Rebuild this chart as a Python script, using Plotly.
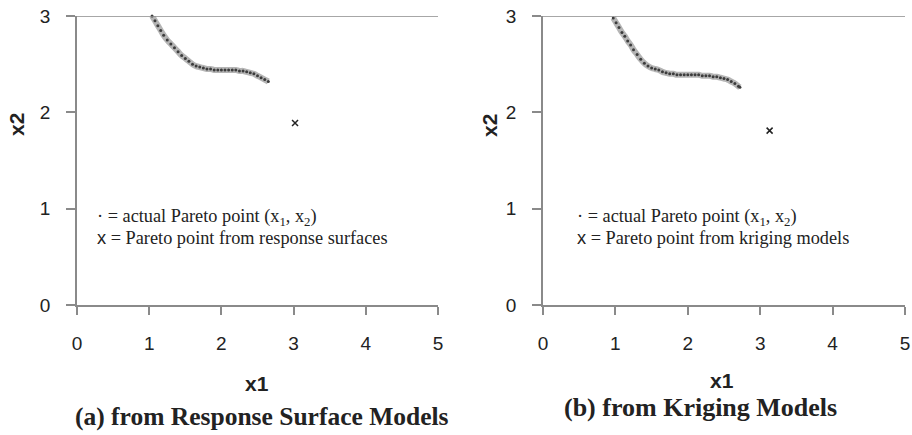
import plotly.graph_objects as go

# Panel (a): actual Pareto points (x1, x2) and response-surface Pareto point
a_x1 = [1.04, 1.08, 1.12, 1.16, 1.20, 1.25, 1.30, 1.35, 1.40, 1.45, 1.50, 1.55, 1.60,
        1.65, 1.70, 1.75, 1.80, 1.85, 1.90, 1.95, 2.00, 2.05, 2.10, 2.15, 2.20, 2.25,
        2.30, 2.35, 2.40, 2.45, 2.50, 2.55, 2.60, 2.65]
a_x2 = [3.00, 2.95, 2.90, 2.85, 2.80, 2.75, 2.71, 2.67, 2.63, 2.59, 2.56, 2.53, 2.50,
        2.48, 2.47, 2.46, 2.45, 2.45, 2.44, 2.44, 2.44, 2.44, 2.44, 2.44, 2.44, 2.43,
        2.43, 2.42, 2.41, 2.40, 2.38, 2.36, 2.34, 2.32]
a_est_x1 = [3.02]
a_est_x2 = [1.89]

# Panel (b): actual Pareto points and kriging Pareto point
b_x1 = [0.97, 1.01, 1.05, 1.09, 1.13, 1.17, 1.21, 1.25, 1.30, 1.35, 1.40, 1.45, 1.50,
        1.55, 1.60, 1.65, 1.70, 1.75, 1.80, 1.85, 1.90, 1.95, 2.00, 2.05, 2.10, 2.15,
        2.20, 2.25, 2.30, 2.35, 2.40, 2.45, 2.50, 2.55, 2.60, 2.65, 2.70, 2.72]
b_x2 = [2.98, 2.93, 2.88, 2.83, 2.79, 2.74, 2.70, 2.65, 2.60, 2.55, 2.51, 2.48, 2.46,
        2.45, 2.44, 2.42, 2.41, 2.40, 2.40, 2.39, 2.39, 2.39, 2.39, 2.39, 2.39, 2.39,
        2.38, 2.38, 2.38, 2.37, 2.37, 2.36, 2.35, 2.34, 2.32, 2.30, 2.27, 2.26]
b_est_x1 = [3.13]
b_est_x2 = [1.81]

x_ticks = [0, 1, 2, 3, 4, 5]
y_ticks = [0, 1, 2, 3]

captions = ["(a) from Response Surface Models", "(b) from Kriging Models"]
SANS_X = "<span style='font-family:Liberation Sans, Arial, sans-serif'>x</span>"
legend_a = ["\u00b7 = actual Pareto point (x<sub>1</sub>, x<sub>2</sub>)",
            SANS_X + " = Pareto point from response surfaces"]
legend_b = ["\u00b7 = actual Pareto point (x<sub>1</sub>, x<sub>2</sub>)",
            SANS_X + " = Pareto point from kriging models"]

W, H = 912, 435
sans = "Liberation Sans, Arial, sans-serif"
serif = "Liberation Serif, Times New Roman, serif"
axcol = "#8a8a8a"
txtcol = "#222222"

fig = go.Figure()

def add_panel(xs, ys, ex, ey, xa, ya):
    fig.add_trace(go.Scatter(x=xs, y=ys, mode="lines+markers", xaxis=xa, yaxis=ya,
                             line=dict(color="rgba(90,90,90,0.45)", width=6, shape="spline"),
                             marker=dict(symbol="circle", size=3, color="#3c3c3c"),
                             cliponaxis=False, showlegend=False))
    fig.add_trace(go.Scatter(x=ex, y=ey, mode="markers", xaxis=xa, yaxis=ya,
                             marker=dict(symbol="x-thin-open", size=6, color="#222222",
                                         line=dict(color="#222222", width=1.5)),
                             cliponaxis=False, showlegend=False))

add_panel(a_x1, a_x2, a_est_x1, a_est_x2, "x", "y")
add_panel(b_x1, b_x2, b_est_x1, b_est_x2, "x2", "y2")

ydom = [(H - 305) / H, (H - 16) / H]
xdom_a = [77 / W, 438 / W]
xdom_b = [543 / W, 905 / W]

xcommon = dict(range=[0, 5], tickvals=x_ticks, showgrid=False, zeroline=False,
               showline=True, linecolor=axcol, linewidth=1.5, ticks="outside",
               ticklen=8, tickcolor=axcol, tickwidth=1.5, automargin=False,
               tickfont=dict(family=sans, size=19, color=txtcol),
               ticklabelstandoff=12, fixedrange=True)
ycommon = dict(range=[0, 3], tickvals=y_ticks, showgrid=False, zeroline=False,
               showline=True, linecolor=axcol, linewidth=1.5, ticks="outside",
               ticklen=9, tickcolor=axcol, tickwidth=1.5, automargin=False,
               tickfont=dict(family=sans, size=19, color=txtcol),
               ticklabelstandoff=12, fixedrange=True)

fig.update_layout(
    template="none",
    width=W, height=H, margin=dict(l=0, r=0, t=0, b=0, pad=0),
    paper_bgcolor="white", plot_bgcolor="white",
    xaxis=dict(domain=xdom_a, anchor="y", **xcommon),
    yaxis=dict(domain=ydom, anchor="x", **ycommon),
    xaxis2=dict(domain=xdom_b, anchor="y2", **xcommon),
    yaxis2=dict(domain=ydom, anchor="x2", **ycommon),
)

# top border line at x2 = 3
for xr, yr in (("x", "y"), ("x2", "y2")):
    fig.add_shape(type="line", xref=xr, yref=yr, x0=0, x1=5, y0=3, y1=3,
                  line=dict(color=axcol, width=1.5))

ann = []
def add_text(px, py, text, font, xanchor="center", angle=0):
    ann.append(dict(x=px / W, y=(H - py) / H, xref="paper", yref="paper",
                    xanchor=xanchor, yanchor="middle", text=text, showarrow=False,
                    textangle=angle, font=font))

for cx, py in ((257, 383), (722, 380)):
    add_text(cx, py, "<b>x1</b>", dict(family=sans, size=21, color=txtcol))
for cx in (17, 490):
    add_text(cx, 125, "<b>x2</b>", dict(family=sans, size=21, color=txtcol), angle=-90)
for lx, py, sz, cap in zip((73, 562), (416, 407), (25.5, 26), captions):
    add_text(lx, py, "<b>" + cap + "</b>", dict(family=serif, size=sz, color=txtcol),
             xanchor="left")
for lx, lines in ((95, legend_a), (575, legend_b)):
    for i, line in enumerate(lines):
        add_text(lx, 218 + 19.5 * i, line, dict(family=serif, size=18.3, color=txtcol),
                 xanchor="left")
fig.update_layout(annotations=ann)

fig.write_html("out.html")
